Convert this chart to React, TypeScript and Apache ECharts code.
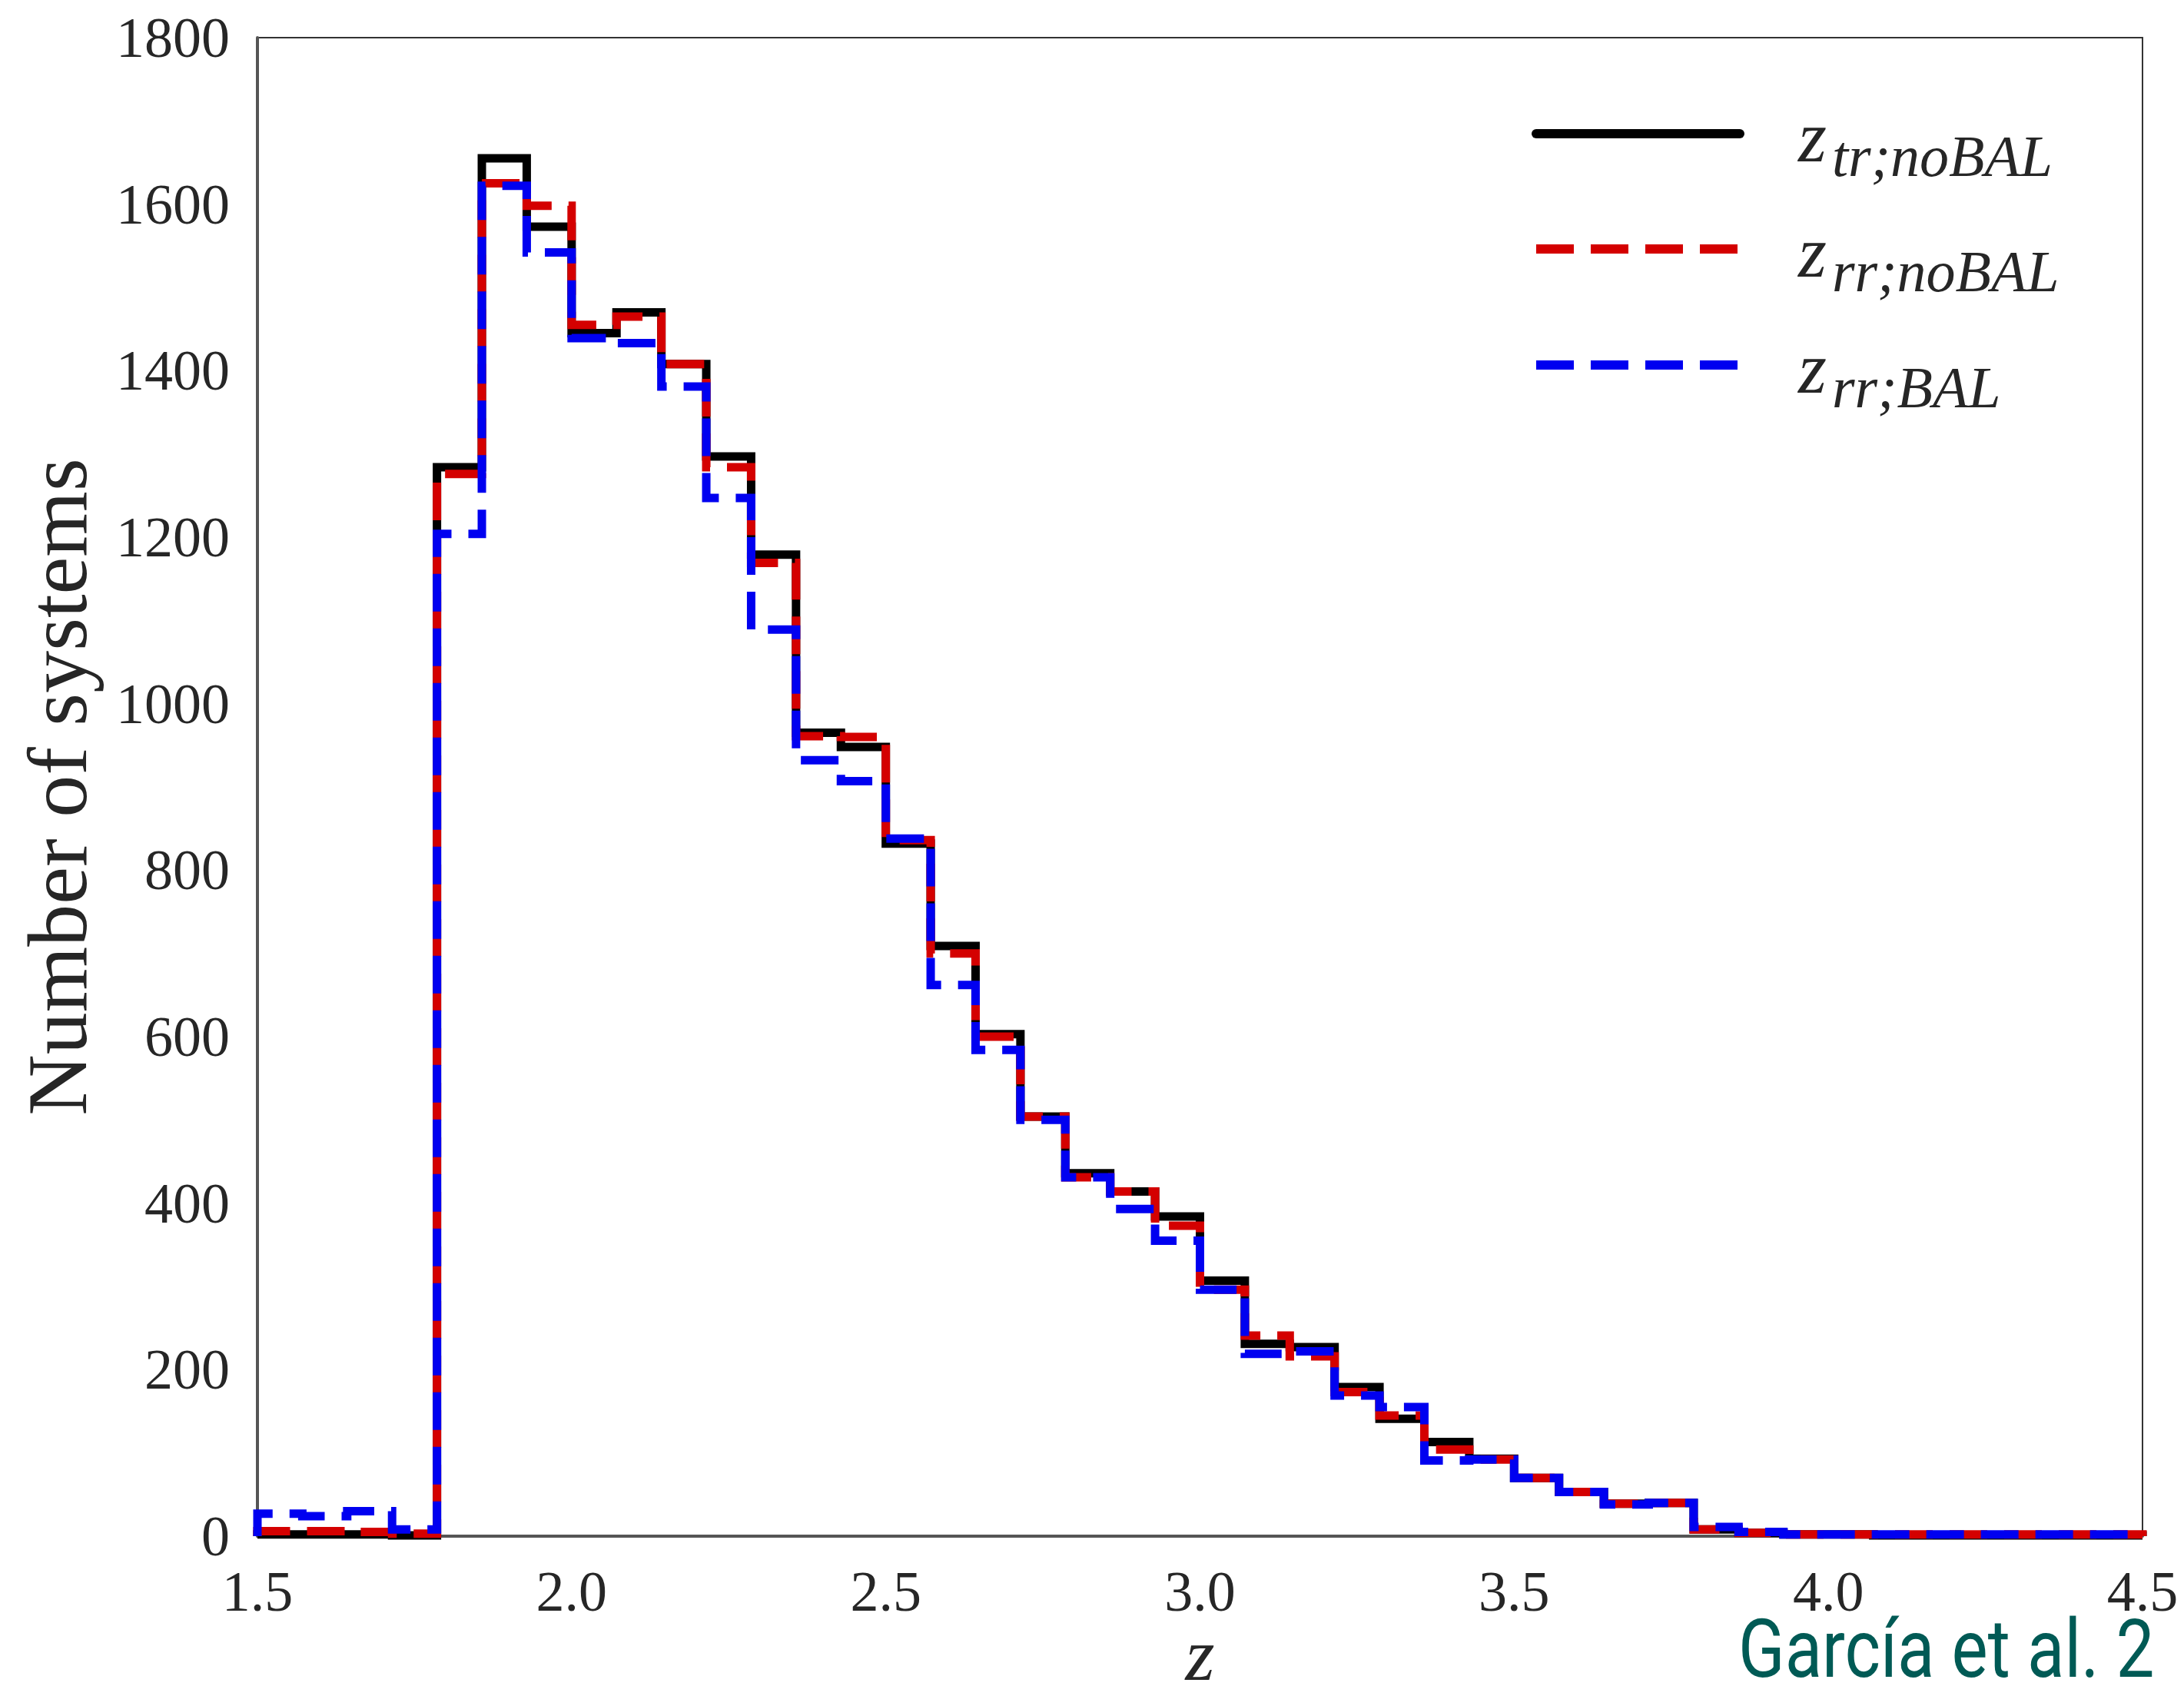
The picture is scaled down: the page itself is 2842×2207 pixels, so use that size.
import React, { useEffect, useRef } from "react";
import * as echarts from "echarts";

// Histogram: 42 bins from z = 1.5 to 4.5 (bin width 1/14)
const zStart = 1.5;
const zEnd = 4.5;
const nBins = 42;

// z_{tr;noBAL} (black solid)
const zTrNoBAL = [2, 2, 2, 1, 1284, 1655, 1573, 1445, 1470, 1408, 1297, 1179, 965, 948, 832, 709, 603, 504, 436, 414, 384, 307, 231, 227, 179, 141, 113, 93, 70, 53, 39, 40, 8, 4, 2, 2, 1, 1, 1, 1, 1, 1];
// z_{rr;noBAL} (red dashed)
const zRrNoBAL = [6, 6, 5, 3, 1276, 1625, 1598, 1455, 1465, 1408, 1284, 1169, 961, 960, 836, 700, 600, 504, 431, 414, 373, 296, 241, 216, 173, 145, 104, 92, 70, 53, 39, 40, 8, 4, 2, 2, 2, 2, 2, 2, 2, 2];
// z_{rr;BAL} (blue dashed)
const zRrBAL = [27, 24, 30, 8, 1204, 1622, 1542, 1439, 1433, 1381, 1247, 1089, 932, 907, 838, 662, 584, 500, 431, 393, 355, 296, 219, 222, 169, 155, 91, 92, 70, 53, 38, 40, 11, 5, 2, 2, 2, 2, 2, 2, 2, 2];

const xTicks = ["1.5", "2.0", "2.5", "3.0", "3.5", "4.0", "4.5"];
const yTicks = [0, 200, 400, 600, 800, 1000, 1200, 1400, 1600, 1800];

const legendNames = [
  { sub: "tr;noBAL", color: "#000000", dashed: false },
  { sub: "rr;noBAL", color: "#d40000", dashed: true },
  { sub: "rr;BAL", color: "#0000f0", dashed: true },
];

function stepData(vals: number[]) {
  const w = (zEnd - zStart) / nBins;
  const pts: number[][] = [[zStart, 0]];
  vals.forEach((v, i) => pts.push([zStart + i * w, v]));
  pts.push([zEnd, vals[vals.length - 1]]);
  pts.push([zEnd, 0]);
  return pts;
}

const SERIF = "'Liberation Serif', 'Times New Roman', serif";
const DASH = [49, 22];

export default function App() {
  const ref = useRef<HTMLDivElement>(null);
  useEffect(() => {
    document.body.style.margin = "0";
    if (!ref.current) return;
    const chart = echarts.init(ref.current, undefined, { renderer: "svg" });

    const mkSeries = (name: string, vals: number[], color: string, dashed: boolean, z: number) => ({
      name,
      type: "line",
      step: "end",
      showSymbol: false,
      symbol: "none",
      z,
      data: stepData(vals),
      lineStyle: {
        color,
        width: 11,
        type: dashed ? DASH : "solid",
        join: "miter",
        cap: "butt",
      },
      emphasis: { disabled: true },
    });

    const graphics: any[] = [];
    const rowY = [174, 324, 475];
    legendNames.forEach((l, i) => {
      graphics.push({
        type: "line",
        shape: { x1: 1999, y1: rowY[i], x2: 2264, y2: rowY[i] },
        style: {
          stroke: l.color,
          lineWidth: 12,
          lineDash: l.dashed ? DASH : null,
          lineCap: l.dashed ? "butt" : "round",
        },
      });
      graphics.push({
        type: "text",
        x: 2340,
        y: rowY[i] + 4,
        style: {
          text: "z",
          fontFamily: SERIF,
          fontStyle: "italic",
          fontSize: 95,
          fill: "#262626",
          align: "left",
          verticalAlign: "middle",
          textAlign: "left",
          textVerticalAlign: "middle",
        },
      });
      graphics.push({
        type: "text",
        x: 2384,
        y: rowY[i] + 29,
        style: {
          text: l.sub,
          fontFamily: SERIF,
          fontStyle: "italic",
          fontSize: 76,
          fill: "#262626",
          align: "left",
          verticalAlign: "middle",
          textAlign: "left",
          textVerticalAlign: "middle",
        },
      });
    });
    graphics.push({
      type: "text",
      x: 2262,
      y: 2146,
      scaleX: 0.84,
      style: {
        text: "García et al. 2",
        fontFamily: "Roboto, 'Noto Sans', sans-serif",
        fontSize: 106,
        fill: "#005a55",
        align: "left",
        verticalAlign: "middle",
        textAlign: "left",
        textVerticalAlign: "middle",
      },
    });

    chart.setOption({
      animation: false,
      backgroundColor: "#ffffff",
      grid: {
        left: 335,
        right: 54,
        top: 49,
        bottom: 208,
        show: true,
        borderColor: "#333333",
        borderWidth: 2,
        backgroundColor: "transparent",
        containLabel: false,
        outerBoundsMode: "none",
      },
      xAxis: {
        type: "value",
        min: 1.5,
        max: 4.5,
        interval: 0.5,
        axisLine: { show: true, onZero: false, lineStyle: { color: "#555555", width: 4 } },
        axisTick: { show: false },
        splitLine: { show: false },
        axisLabel: {
          formatter: (v: number) => xTicks.find((t) => Math.abs(parseFloat(t) - v) < 1e-6) ?? "",
          fontFamily: SERIF,
          fontSize: 74,
          lineHeight: 76,
          color: "#262626",
          margin: 34,
        },
        name: "z",
        nameLocation: "middle",
        nameGap: 112,
        nameMoveOverlap: false,
        nameTextStyle: { fontFamily: SERIF, fontStyle: "italic", fontSize: 98, lineHeight: 84, color: "#262626" },
      },
      yAxis: {
        type: "value",
        min: yTicks[0],
        max: yTicks[yTicks.length - 1],
        interval: 200,
        axisLine: { show: true, lineStyle: { color: "#555555", width: 4 } },
        axisTick: { show: false },
        splitLine: { show: false },
        axisLabel: {
          formatter: (v: number) => String(yTicks.find((t) => t === v) ?? v),
          fontFamily: SERIF,
          fontSize: 74,
          color: "#262626",
          margin: 36,
        },
        name: "Number of systems",
        nameLocation: "middle",
        nameGap: 205,
        nameRotate: 90,
        nameMoveOverlap: false,
        nameTextStyle: { fontFamily: SERIF, fontSize: 110, color: "#262626" },
      },
      series: [
        mkSeries("z_tr;noBAL", zTrNoBAL, "#000000", false, 2),
        mkSeries("z_rr;noBAL", zRrNoBAL, "#d40000", true, 3),
        mkSeries("z_rr;BAL", zRrBAL, "#0000f0", true, 4),
      ],
      graphic: { elements: graphics },
    });
    return () => chart.dispose();
  }, []);
  return <div ref={ref} style={{ width: 2842, height: 2207 }} />;
}
